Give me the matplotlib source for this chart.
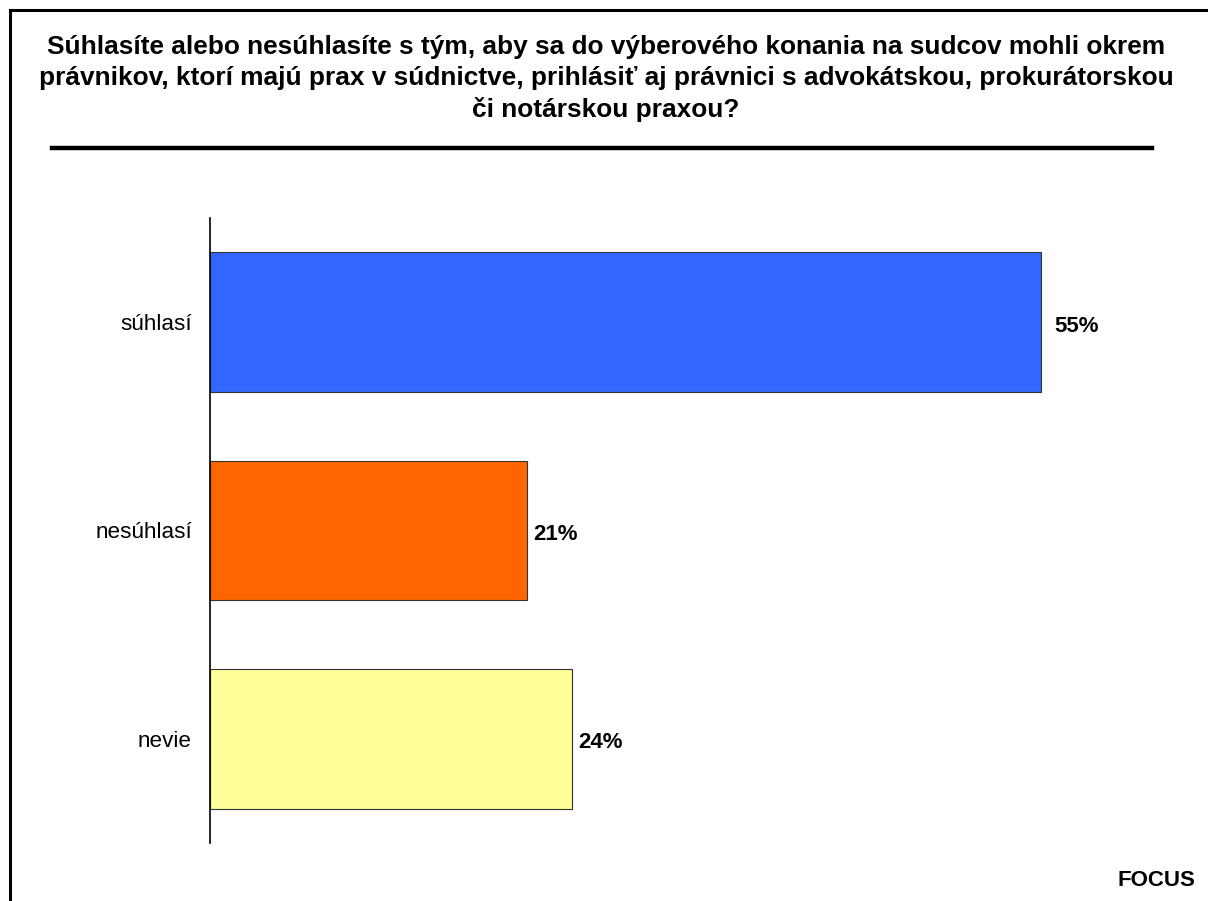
import matplotlib.pyplot as plt
from matplotlib.lines import Line2D
from matplotlib.patches import Rectangle

plt.rcParams['font.family'] = ['Liberation Sans', 'DejaVu Sans']

# data
categories = ['súhlasí', 'nesúhlasí', 'nevie']
values = [55, 21, 24]
colors = ['#3366FF', '#FF6600', '#FFFF99']
label_gap = [10, 4.5, 4.5]  # points between bar end and its label, as in the original

title = ('Súhlasíte alebo nesúhlasíte s tým, aby sa do výberového konania na sudcov mohli okrem\n'
         'právnikov, ktorí majú prax v súdnictve, prihlásiť aj právnici s advokátskou, prokurátorskou\n'
         'či notárskou praxou?')

W, H = 1208, 901
fig = plt.figure(figsize=(W / 100, H / 100), dpi=100)

# frame round the chart (runs off right and bottom)
fig.add_artist(Rectangle((10 / W, -0.01), 1.1, 1 - 10 / H + 0.01, transform=fig.transFigure,
                         fill=False, edgecolor='black', linewidth=2.2))

fig.text(0.5 + 2 / W, 1 - 35 / H, title, ha='center', va='top', fontsize=18.9,
         fontweight='bold', linespacing=1.36)

# rule under the title
fig.add_artist(Line2D([52 / W, 1152 / W], [1 - 148 / H, 1 - 148 / H],
                      transform=fig.transFigure, color='black', linewidth=3.2))

ax = fig.add_axes([210 / W, 58 / H, 906 / W, 625 / H])
ypos = list(range(len(categories)))
bars = ax.barh(ypos, values, height=0.67, color=colors, edgecolor='#333333', linewidth=0.8)
ax.set_xlim(0, 60)
ax.set_ylim(2.5, -0.5)
ax.set_yticks(ypos)
ax.set_yticklabels(categories, fontsize=16.2)
ax.tick_params(axis='y', length=0, pad=13)
ax.set_xticks([])
for s in ['top', 'right', 'bottom']:
    ax.spines[s].set_visible(False)
ax.spines['left'].set_linewidth(1.2)

for b, v, g in zip(bars, values, label_gap):
    ax.annotate(f'{v}%', (v, b.get_y() + b.get_height() / 2), xytext=(g, -3),
                textcoords='offset points', va='center', ha='left',
                fontsize=16, fontweight='bold')

fig.text(1195 / W, 1 - 881 / H, 'FOCUS', ha='right', va='center', fontsize=16, fontweight='bold')

fig.savefig('out.png', dpi=100)
